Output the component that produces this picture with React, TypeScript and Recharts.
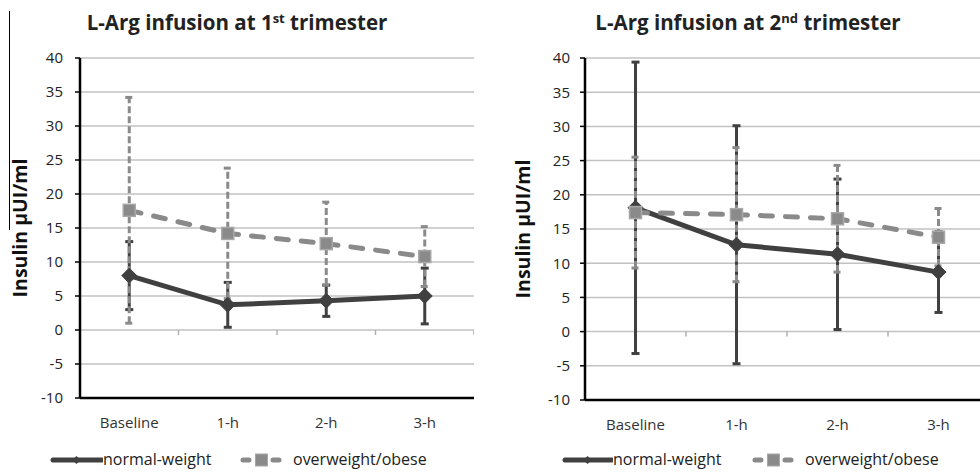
import React from 'react';
import { ComposedChart, Line, XAxis, YAxis, CartesianGrid, ErrorBar, Scatter } from 'recharts';

const categories = ['Baseline', '1-h', '2-h', '3-h'];
const yTicks = [-10, -5, 0, 5, 10, 15, 20, 25, 30, 35, 40];
const seriesNames = ['normal-weight', 'overweight/obese'];
const axisLabel = 'Insulin µUI/ml';

// 1st trimester
const t1Normal = [8.0, 3.7, 4.3, 5.0];
const t1NormalErr = [5.0, 3.3, 2.3, 4.1];
const t1Over = [17.6, 14.2, 12.7, 10.8];
const t1OverErr = [16.6, 9.6, 6.1, 4.4];

// 2nd trimester
const t2Normal = [18.1, 12.7, 11.3, 8.7];
const t2NormalErr = [21.3, 17.4, 11.0, 5.9];
const t2Over = [17.4, 17.1, 16.5, 13.8];
const t2OverErr = [8.1, 9.8, 7.8, 4.2];

// category boundaries (for the small ticks on the zero line)
const boundaryX = [1.5, 2.5, 3.5, 4.5];

const DARK = '#404040';
const GRAY = '#8a8a8a';
const FONT = '"Open Sans", sans-serif';

const build = (n: number[], ne: number[], o: number[], oe: number[]) =>
  categories.map((c, i) => ({ cat: c, normal: n[i], normalErr: ne[i], over: o[i], overErr: oe[i] }));

const t1Data = build(t1Normal, t1NormalErr, t1Over, t1OverErr);
const t2Data = build(t2Normal, t2NormalErr, t2Over, t2OverErr);
const boundaryData = boundaryX.map((x) => ({ x, y: 0 }));

const Diamond = (p: any) => {
  const { cx, cy } = p;
  if (cx == null || cy == null) return null;
  const r = 7.5;
  return (
    <polygon
      key={`d-${p.index}`}
      points={`${cx},${cy - r} ${cx + r},${cy} ${cx},${cy + r} ${cx - r},${cy}`}
      fill={DARK}
      stroke={DARK}
      strokeWidth={1}
    />
  );
};

const Square = (p: any) => {
  const { cx, cy } = p;
  if (cx == null || cy == null) return null;
  const s = 6;
  return (
    <rect key={`s-${p.index}`} x={cx - s} y={cy - s} width={2 * s} height={2 * s} fill={GRAY} stroke="#a8a8a8" strokeWidth={1.5} />
  );
};

const TickMark = (p: any) => {
  const { cx, cy } = p;
  if (cx == null || cy == null) return null;
  return <line x1={cx} y1={cy} x2={cx} y2={cy + 5} stroke="#b0b0b0" strokeWidth={1.5} />;
};

type PanelProps = {
  data: any[];
  left: number;
  width: number;
  yAxisWidth: number;
  marginRight: number;
  marginBottom: number;
  labelOffset: number;
  tickMargin: number;
};

const Panel = ({ data, left, width, yAxisWidth, marginRight, marginBottom, labelOffset, tickMargin }: PanelProps) => (
  <div style={{ position: 'absolute', left, top: 0 }}>
    <ComposedChart width={width} height={473} data={data} margin={{ top: 58, right: marginRight, bottom: marginBottom, left: 0 }}>
      <CartesianGrid vertical={false} stroke="#c2c2c2" strokeWidth={1.5} />
      <XAxis
        dataKey="cat"
        scale="band"
        height={30}
        axisLine={{ stroke: '#000', strokeWidth: 2.5 }}
        tickLine={false}
        tickSize={0}
        tickMargin={19}
        tick={{ fill: '#333', fontSize: 15, fontFamily: FONT }}
        interval={0}
      />
      <XAxis xAxisId="n" type="number" dataKey="x" domain={[0.5, 4.5]} hide allowDataOverflow />
      <YAxis
        width={yAxisWidth}
        domain={[-10, 40]}
        ticks={yTicks}
        interval={0}
        axisLine={{ stroke: '#000', strokeWidth: 2.5 }}
        tickLine={{ stroke: '#000', strokeWidth: 1.5 }}
        tickSize={5}
        tickMargin={tickMargin}
        tick={{ fill: '#222', fontSize: 15, fontFamily: FONT }}
        label={{
          value: axisLabel,
          angle: -90,
          position: 'insideLeft',
          offset: labelOffset,
          style: { textAnchor: 'middle', fontWeight: 700, fontSize: 19.5, fill: '#111', fontFamily: FONT },
        }}
      />
      <Scatter xAxisId="n" data={boundaryData} dataKey="y" shape={TickMark} isAnimationActive={false} />
      <Line
        dataKey="normal"
        stroke={DARK}
        strokeWidth={5}
        dot={(p: any) => <Diamond key={`dn-${p.index}`} {...p} />}
        activeDot={false}
        isAnimationActive={false}
      >
        <ErrorBar dataKey="normalErr" width={4} strokeWidth={3} stroke={DARK} direction="y" />
      </Line>
      <Line
        dataKey="over"
        stroke={GRAY}
        strokeWidth={5}
        strokeDasharray="12 13"
        strokeLinecap="round"
        dot={(p: any) => <Square key={`so-${p.index}`} {...p} />}
        activeDot={false}
        isAnimationActive={false}
      >
        <ErrorBar dataKey="overErr" width={4} strokeWidth={3} stroke={GRAY} strokeDasharray="7 3" direction="y" />
      </Line>
    </ComposedChart>
  </div>
);

const Title = ({ center, ord }: { center: number; ord: [string, string] }) => (
  <div
    style={{
      position: 'absolute',
      left: center - 220,
      width: 440,
      top: 8,
      textAlign: 'center',
      fontFamily: FONT,
      fontWeight: 700,
      fontSize: 20.5,
      lineHeight: '28px',
      color: '#222',
      whiteSpace: 'nowrap',
    }}
  >
    L-Arg infusion at {ord[0]}
    <sup style={{ fontSize: 13, verticalAlign: 'top', position: 'relative', top: -4 }}>{ord[1]}</sup> trimester
  </div>
);

const LegendBox = ({ s1, t1, s2, t2 }: { s1: number; t1: number; s2: number; t2: number }) => {
  const textStyle: React.CSSProperties = {
    position: 'absolute',
    top: 448,
    fontFamily: FONT,
    fontSize: 16,
    lineHeight: '22px',
    color: '#222',
    whiteSpace: 'nowrap',
  };
  const w1 = t1 - s1;
  const w2 = t2 - s2 - 10;
  return (
    <>
      <svg style={{ position: 'absolute', left: s1, top: 453 }} width={w1} height={14}>
        <line x1={3} y1={7} x2={w1 - 1} y2={7} stroke={DARK} strokeWidth={5} strokeLinecap="round" />
        <polygon points={`${w1 / 2},3 ${w1 / 2 + 4},7 ${w1 / 2},11 ${w1 / 2 - 4},7`} fill={DARK} />
      </svg>
      <span style={{ ...textStyle, left: t1 }}>{seriesNames[0]}</span>
      <svg style={{ position: 'absolute', left: s2, top: 453 }} width={w2} height={14}>
        <line x1={3} y1={7} x2={w2 - 3} y2={7} stroke={GRAY} strokeWidth={5} strokeLinecap="round" strokeDasharray="6 9" />
        <rect x={w2 / 2 - 6} y={1} width={12} height={12} fill={GRAY} stroke="#a8a8a8" strokeWidth={1} />
      </svg>
      <span style={{ ...textStyle, left: t2 }}>{seriesNames[1]}</span>
    </>
  );
};

export default function App() {
  return (
    <div
      style={{
        position: 'absolute',
        left: 0,
        top: 0,
        width: 980,
        height: 473,
        overflow: 'hidden',
        background: '#fff',
      }}
    >
      <div style={{ position: 'absolute', left: 9, top: 11, width: 1, height: 219, background: '#000' }} />
      <Title center={237} ord={['1', 'st']} />
      <Title center={748} ord={['2', 'nd']} />
      <Panel data={t1Data} left={0} width={490} yAxisWidth={80} marginRight={16} marginBottom={45} labelOffset={20} tickMargin={12} />
      <Panel data={t2Data} left={490} width={500} yAxisWidth={95} marginRight={1} marginBottom={43} labelOffset={33} tickMargin={10} />
      <LegendBox s1={50} t1={103} s2={240} t2={293} />
      <LegendBox s1={562} t1={613} s2={752} t2={805} />
    </div>
  );
}
